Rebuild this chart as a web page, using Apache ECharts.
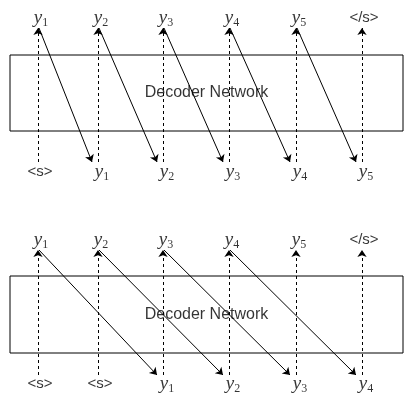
<!DOCTYPE html><html><head><meta charset="utf-8"><script src="https://cdn.jsdelivr.net/npm/echarts@6/dist/echarts.min.js"></script></head><body style="margin:0"><div id="c" style="width:413px;height:420px"></div><script>
// Diagram coordinates in picture units (x right, y down)
const colX = [38, 98, 163, 229, 296, 362];
const topLabels = ["y|1","y|2","y|3","y|4","y|5","</s>"];
const bottom1 = ["<s>","y|1","y|2","y|3","y|4","y|5"];
const bottom2 = ["<s>","<s>","y|1","y|2","y|3","y|4"];
const panels = [
  {labelTop:18, arrowTop:28, box:[10,55,403,131], bottom:172, arrowBottom:162, shift:1, bottomLabels:bottom1},
  {labelTop:240, arrowTop:250, box:[10,276,403,353], bottom:384, arrowBottom:375, shift:2, bottomLabels:bottom2}
];
const labelData=[], dashed=[], solid=[], boxes=[];
panels.forEach(p=>{
  colX.forEach((x,i)=>{
    labelData.push({value:[x+(i==5?2:3),p.labelTop], name:topLabels[i]});
    labelData.push({value:[x+(i>=p.shift?4:2),p.bottom], name:p.bottomLabels[i]});
    dashed.push({coords:[[x,p.arrowBottom],[x,p.arrowTop]]});
  });
  for(let i=0;i+p.shift<6 && i<5;i++){
    solid.push({coords:[[colX[i]+1,p.arrowTop],[colX[i+p.shift]-6,p.arrowBottom]]});
  }
  boxes.push({value:p.box});
  labelData.push({value:[(p.box[0]+p.box[2])/2,(p.box[1]+p.box[3])/2], name:"Decoder Network"});
});
const fmt = n => { if(n.indexOf('|')>=0){const [a,b]=n.split('|');return '{i|'+a+'}{s|'+b+'}';} return '{t|'+n+'}'; };
const chart=echarts.init(document.getElementById('c'));
chart.setOption({
  animation:false,
  grid:{left:0,right:0,top:0,bottom:0},
  xAxis:{type:'value',min:0,max:413,show:false},
  yAxis:{type:'value',min:0,max:420,inverse:true,show:false},
  series:[
    {type:'custom',data:boxes,renderItem:(params,api)=>{
      const a=api.coord([api.value(0),api.value(1)]), b=api.coord([api.value(2),api.value(3)]);
      return {type:'rect',shape:{x:a[0],y:a[1],width:b[0]-a[0],height:b[1]-a[1]},style:{fill:'#fff',stroke:'#000',lineWidth:1}};
    }},
    {type:'lines',coordinateSystem:'cartesian2d',data:dashed,symbol:['none','arrow'],symbolSize:7,lineStyle:{color:'#000',width:1,type:[3,3],opacity:1}},
    {type:'lines',coordinateSystem:'cartesian2d',data:solid,symbol:['none','arrow'],symbolSize:7,lineStyle:{color:'#000',width:1,opacity:1}},
    {type:'scatter',data:labelData,symbolSize:0,label:{show:true,position:'inside',color:'#000',
      formatter:p=>p.name=="Decoder Network"?'{d|Decoder Network}':fmt(p.name),
      rich:{i:{fontFamily:'Liberation Serif',fontStyle:'italic',fontSize:19,color:'#000'},
            s:{fontFamily:'Liberation Serif',fontSize:12,color:'#000',verticalAlign:'bottom',padding:[9,0,0,0]},
            t:{fontFamily:'Liberation Sans',fontSize:15,color:'#000',backgroundColor:'#fff'},
            d:{fontFamily:'Liberation Sans',fontSize:16,color:'#000'}}}}
  ]
});
</script></body></html>
